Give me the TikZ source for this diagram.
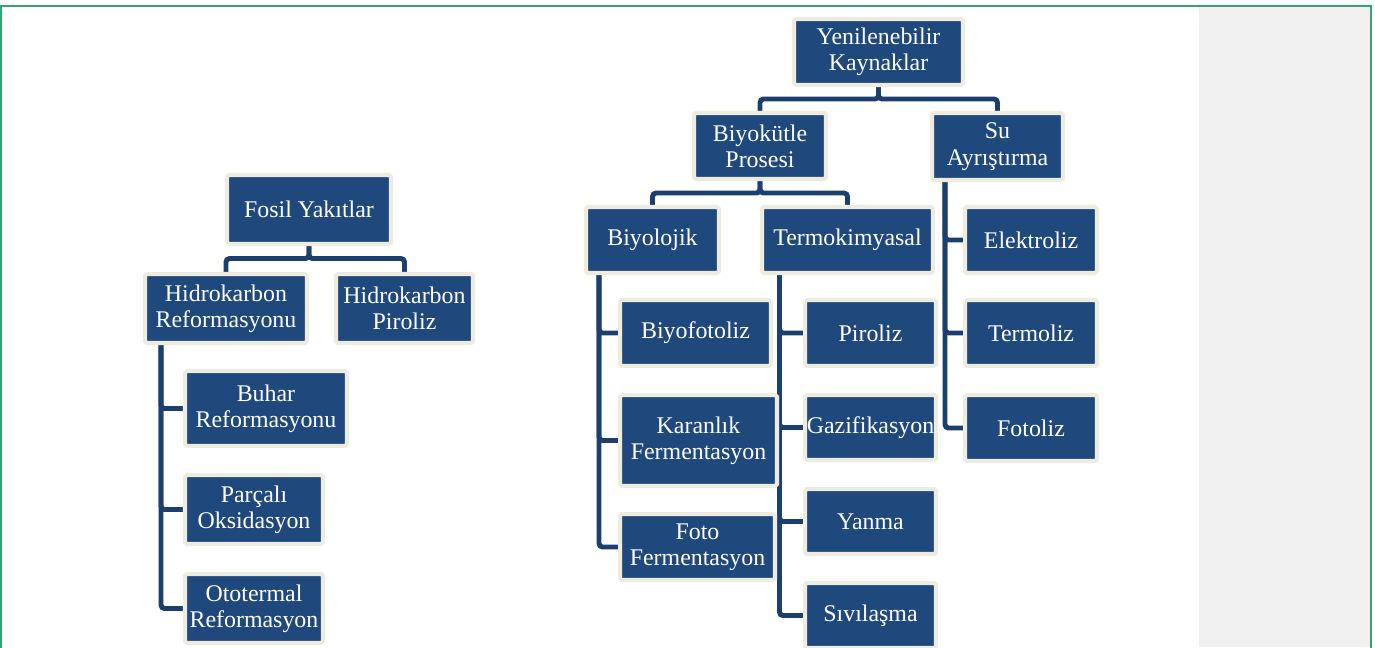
\documentclass[tikz,border=0pt]{standalone}
\usepackage{fontspec}
\setmainfont{Liberation Serif}
\usetikzlibrary{calc, backgrounds}

\definecolor{kutumavi}{HTML}{1F497D}
\definecolor{kenarbej}{HTML}{EEECE1}
\definecolor{hatmavi}{HTML}{1D3F6E}
\definecolor{cerceve}{HTML}{34A477}
\definecolor{panelgri}{HTML}{F0F0F0}

\tikzset{
  kutu/.style={draw=kenarbej, fill=kutumavi, line width=2.3pt, rounded corners=1pt,
    text=white, align=center, inner sep=0pt, font=\fontsize{13.6}{15}\selectfont},
  bag/.style={draw=hatmavi, line width=2.8pt, rounded corners=2pt}
}

\begin{document}
\begin{tikzpicture}[x=0.02cm, y=-0.02cm]
  \useasboundingbox (0,0) rectangle (1375,647);
  \clip (0,0) rectangle (1375,647);

  % Panel and frame
  \fill[panelgri] (1199,7) rectangle (1370,647);
  \draw[cerceve, line width=1.2pt] (1,660) -- (1,6) -- (1371,6) -- (1371,660);

  % Fosil Yakitlar
  \node[kutu, minimum width=3.28cm, minimum height=1.38cm] (fosil) at (309,209.5) {Fosil Yakıtlar};
  \node[kutu, minimum width=3.24cm, minimum height=1.38cm] (hr) at (226,308.5) {Hidrokarbon\\Reformasyonu};
  \node[kutu, minimum width=2.74cm, minimum height=1.38cm] (hp) at (404.5,308.5) {Hidrokarbon\\Piroliz};
  \node[kutu, minimum width=3.24cm, minimum height=1.50cm] (buhar) at (266,408.5) {Buhar\\Reformasyonu};
  \node[kutu, minimum width=2.76cm, minimum height=1.38cm] (parcali) at (254,509.5) {Parçalı\\Oksidasyon};
  \node[kutu, minimum width=2.76cm, minimum height=1.38cm] (ototermal) at (254,608.5) {Ototermal\\Reformasyon};

  % Yenilenebilir Kaynaklar
  \node[kutu, minimum width=3.38cm, minimum height=1.32cm] (yenilenebilir) at (878.5,52) {Yenilenebilir\\Kaynaklar};
  \node[kutu, minimum width=2.64cm, minimum height=1.32cm] (biyokutle) at (760,146) {Biyokütle\\Prosesi};
  \node[kutu, minimum width=2.62cm, minimum height=1.34cm] (su) at (997.5,146.5) {Su\\Ayrıştırma};

  % Biyokutle alt dallari
  \node[kutu, minimum width=2.66cm, minimum height=1.32cm] (biyolojik) at (652.5,240) {Biyolojik};
  \node[kutu, minimum width=3.42cm, minimum height=1.32cm] (termo) at (847.5,240) {Termokimyasal};

  \node[kutu, minimum width=3.02cm, minimum height=1.32cm] (biyofotoliz) at (695.5,333) {Biyofotoliz};
  \node[kutu, minimum width=3.14cm, minimum height=1.82cm] (karanlik) at (698.5,440.5) {Karanlık\\Fermentasyon};
  \node[kutu, minimum width=3.10cm, minimum height=1.32cm] (foto) at (697.5,547) {Foto\\Fermentasyon};

  \node[kutu, minimum width=2.62cm, minimum height=1.32cm] (piroliz) at (870.5,333) {Piroliz};
  \node[kutu, minimum width=2.62cm, minimum height=1.30cm] (gazifikasyon) at (870.5,427.5) {Gazifikasyon};
  \node[kutu, minimum width=2.62cm, minimum height=1.30cm] (yanma) at (870.5,521.5) {Yanma};
  \node[kutu, minimum width=2.62cm, minimum height=1.30cm] (sivilasma) at (870.5,615.5) {Sıvılaşma};

  % Su ayristirma alt dallari
  \node[kutu, minimum width=2.64cm, minimum height=1.32cm] (elektroliz) at (1031,240) {Elektroliz};
  \node[kutu, minimum width=2.64cm, minimum height=1.32cm] (termoliz) at (1031,333) {Termoliz};
  \node[kutu, minimum width=2.64cm, minimum height=1.32cm] (fotoliz) at (1031,428) {Fotoliz};

  % Baglantilar
  \begin{scope}[on background layer]
    \draw[bag] (fosil.south) -- ++(0,12.5) -| (hr.north);
    \draw[bag] (fosil.south) -- ++(0,12.5) -| (hp.north);
    \draw[bag] ([shift={(-65,0)}]hr.south) |- (buhar.west);
    \draw[bag] ([shift={(-65,0)}]hr.south) |- (parcali.west);
    \draw[bag] ([shift={(-65,0)}]hr.south) |- (ototermal.west);

    \draw[bag] (yenilenebilir.south) -- ++(0,12) -| (biyokutle.north);
    \draw[bag] (yenilenebilir.south) -- ++(0,12) -| (su.north);
    \draw[bag] (biyokutle.south) -- ++(0,12) -| (biyolojik.north);
    \draw[bag] (biyokutle.south) -- ++(0,12) -| (termo.north);

    \draw[bag] ([shift={(-53.5,0)}]biyolojik.south) |- (biyofotoliz.west);
    \draw[bag] ([shift={(-53.5,0)}]biyolojik.south) |- (karanlik.west);
    \draw[bag] ([shift={(-53.5,0)}]biyolojik.south) |- (foto.west);

    \draw[bag] ([shift={(-68,0)}]termo.south) |- (piroliz.west);
    \draw[bag] ([shift={(-68,0)}]termo.south) |- (gazifikasyon.west);
    \draw[bag] ([shift={(-68,0)}]termo.south) |- (yanma.west);
    \draw[bag] ([shift={(-68,0)}]termo.south) |- (sivilasma.west);

    \draw[bag] ([shift={(-52.5,0)}]su.south) |- (elektroliz.west);
    \draw[bag] ([shift={(-52.5,0)}]su.south) |- (termoliz.west);
    \draw[bag] ([shift={(-52.5,0)}]su.south) |- (fotoliz.west);
  \end{scope}
\end{tikzpicture}
\end{document}
